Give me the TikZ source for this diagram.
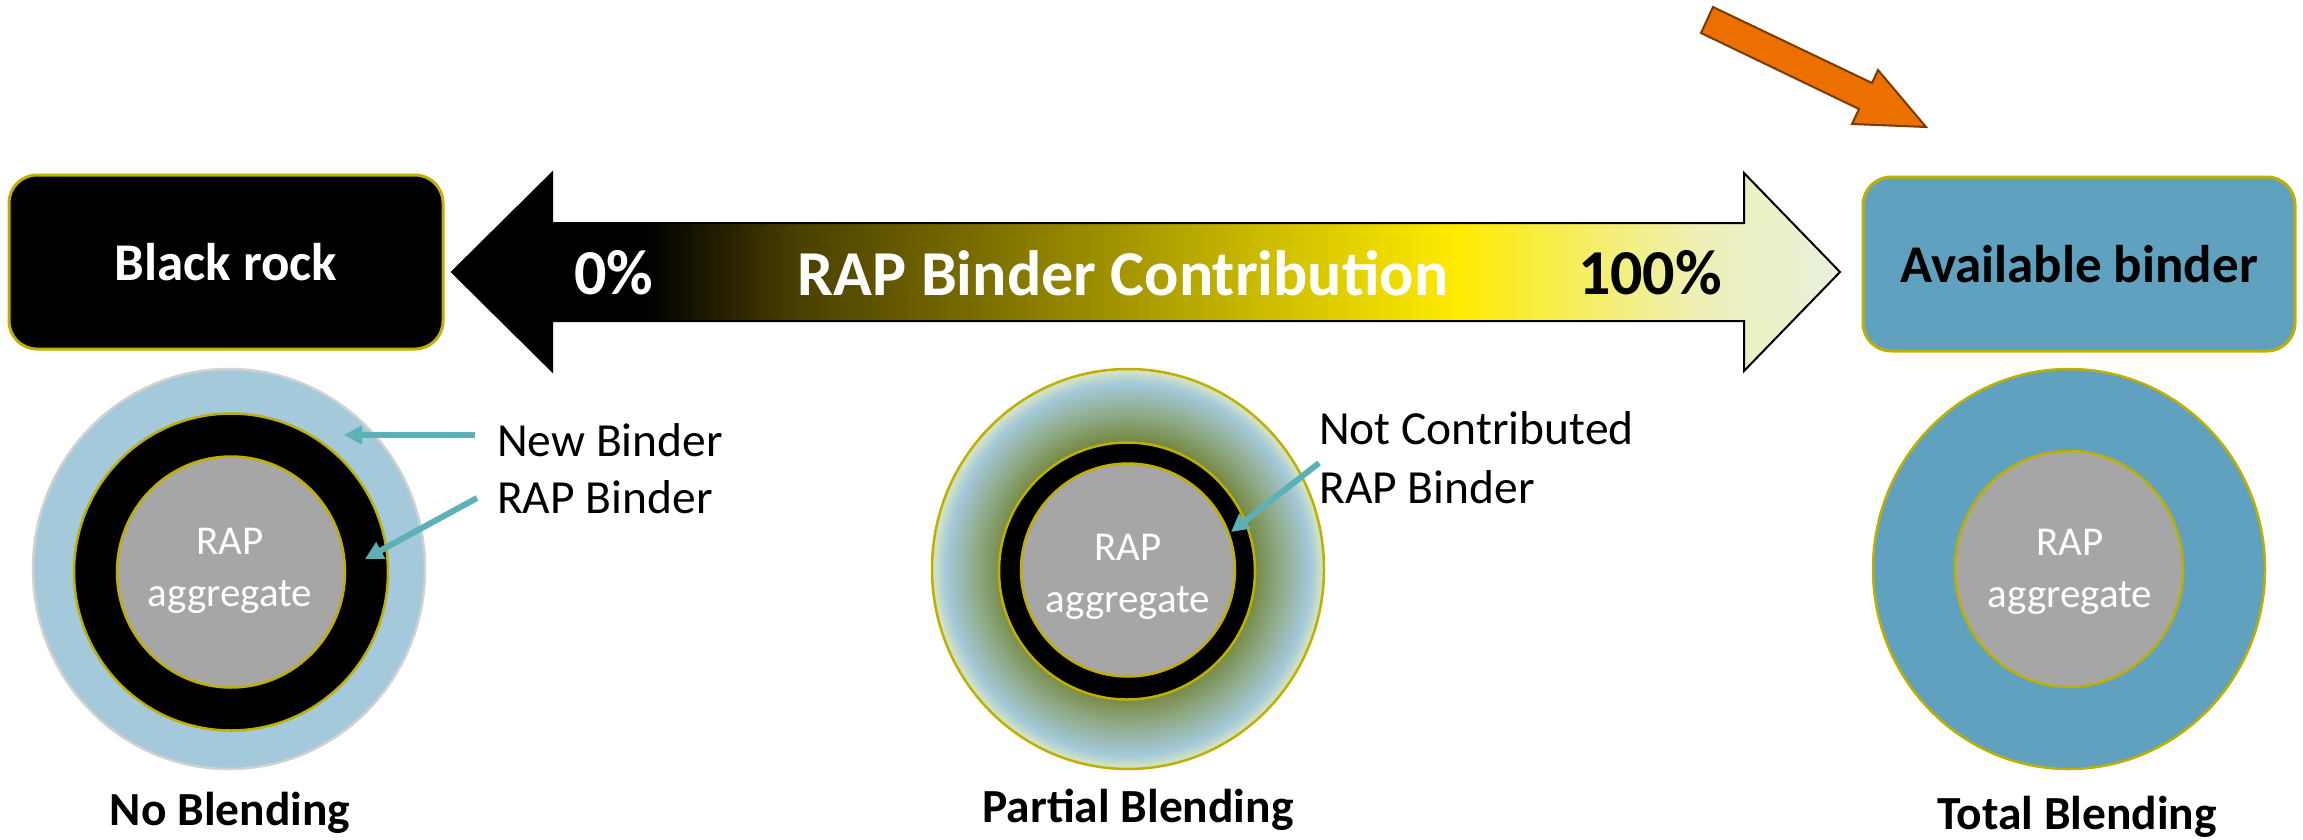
\documentclass[tikz,border=0pt]{standalone}
\usepackage{fontspec}
\setmainfont{Carlito}
\usetikzlibrary{shapes.geometric,arrows.meta}
\definecolor{olivel}{HTML}{BFB000}
\definecolor{boxblue}{HTML}{5FA1BE}
\definecolor{lblue}{HTML}{A4C9DA}
\definecolor{aggray}{HTML}{A6A6A6}
\definecolor{tealc}{HTML}{5DB1B6}
\definecolor{orng}{HTML}{EC7000}
\definecolor{orngd}{HTML}{7A3A00}
\definecolor{ga}{HTML}{4A4000}
\definecolor{gb}{HTML}{807300}
\definecolor{gc}{HTML}{C8B800}
\definecolor{gd}{HTML}{FFEB00}
\definecolor{ge}{HTML}{F3EE70}
\definecolor{gf}{HTML}{EEF0B8}
\definecolor{gg}{HTML}{E8F2DC}
\definecolor{polv}{HTML}{778A45}
\definecolor{pmid}{HTML}{8FAA88}
\definecolor{prim}{HTML}{D2E2C4}
\pgfdeclarehorizontalshading{rapgrad}{100bp}{color(0bp)=(black); color(25bp)=(black); color(32bp)=(black); color(37.5bp)=(ga); color(44.7bp)=(gb); color(53.7bp)=(gc); color(61.2bp)=(gd); color(66.4bp)=(ge); color(70bp)=(gf); color(75bp)=(gg); color(100bp)=(gg)}
\pgfdeclareradialshading{pblend}{\pgfpoint{0bp}{0bp}}{color(0bp)=(polv); color(16.2bp)=(polv); color(19.5bp)=(pmid); color(23.3bp)=(lblue); color(24.7bp)=(prim); color(25bp)=(prim); color(50bp)=(prim)}
\tikzset{
  rbox/.style={rounded corners=28pt, line width=3pt, draw=olivel, minimum width=#1, minimum height=174pt, inner sep=0pt},
  ring/.style={ellipse, inner sep=0pt, line width=2.5pt},
  aggtext/.style={text=white, align=center, font=\fontsize{41}{52}\selectfont},
  lbltext/.style={anchor=west, inner sep=0pt, font=\fontsize{47.5}{57}\selectfont},
  captext/.style={inner sep=0pt, font=\bfseries\fontsize{47.5}{57}\selectfont},
  bigtext/.style={inner sep=0pt, font=\bfseries\fontsize{64}{76}\selectfont},
  tealarrow/.style={draw=tealc, line width=6pt, -{Triangle[length=18pt,width=18pt]}}
}
\begin{document}
\begin{tikzpicture}[x=1pt,y=-1pt]
\useasboundingbox (0,0) rectangle (2303,839);
% boxes
\node[rbox=434pt, fill=black, text=white, font=\bfseries\fontsize{53}{64}\selectfont] (black) at (226,262) {Black rock};
\node[rbox=432pt, fill=boxblue, text=black, font=\bfseries\fontsize{53}{64}\selectfont] (avail) at (2079,264) {Available binder};
% big double arrow
\path[shading=rapgrad, draw=black, line width=2pt]
  (452,272) -- (552,173) -- (552,223) -- (1744,223) -- (1744,173) -- (1840,272)
  -- (1744,371) -- (1744,321) -- (552,321) -- (552,371) -- cycle;
\node[bigtext, text=white] (zero) at (614,273) {0\%};
\node[bigtext, text=white] (title) at (1123,273) {RAP Binder Contribution};
\node[bigtext, text=black] (hundred) at (1650,273) {100\%};
% orange arrow
\draw[fill=orng, draw=orngd, line width=2pt, line join=miter]
  (1713,7) -- (1872,83) -- (1878,70) -- (1926,127) -- (1852,124) -- (1859,109) -- (1701,33) -- cycle;
% circle 1: no blending
\node[ring, fill=lblue, draw=black!18, minimum width=392pt, minimum height=400pt] (o1) at (229,569) {};
\node[ring, fill=black, draw=olivel, minimum width=314pt, minimum height=317pt] (b1) at (231,572) {};
\node[ring, fill=aggray, draw=olivel, minimum width=228pt, minimum height=231pt] (g1) at (231,572) {};
\node[aggtext] (t1) at (230,571) {RAP\\aggregate};
\node[lbltext] (nb) at (497,440) {New Binder};
\node[lbltext] (rb) at (497,497) {RAP Binder};
\coordinate (nbtail) at (475,435);
\coordinate (nbtip) at (344,435);
\coordinate (rbtail) at (477,498);
\coordinate (rbtip) at (365,559);
\draw[tealarrow] (nbtail) -- (nbtip);
\draw[tealarrow] (rbtail) -- (rbtip);
\node[captext] (c1) at (230,813) {No Blending};
% circle 2: partial blending
\node[ring, shading=pblend, draw=olivel, minimum width=392pt, minimum height=400pt] (o2) at (1128,569) {};
\node[ring, fill=black, draw=olivel, minimum width=256pt, minimum height=257pt] (b2) at (1127,571) {};
\node[ring, fill=aggray, draw=olivel, minimum width=214pt, minimum height=213pt] (g2) at (1128,570) {};
\node[aggtext] (t2) at (1128,577) {RAP\\aggregate};
\node[lbltext] (nc) at (1319,428) {Not Contributed};
\node[lbltext] (rb2) at (1319,487) {RAP Binder};
\coordinate (nctail) at (1319,463);
\coordinate (nctip) at (1231,532);
\draw[tealarrow] (nctail) -- (nctip);
\node[captext] (c2) at (1138,810) {Partial Blending};
% circle 3: total blending
\node[ring, fill=boxblue, draw=olivel, minimum width=392pt, minimum height=400pt] (o3) at (2069,569) {};
\node[ring, fill=aggray, draw=olivel, minimum width=228pt, minimum height=236pt] (g3) at (2069,569) {};
\node[aggtext] (t3) at (2070,572) {RAP\\aggregate};
\node[captext] (c3) at (2077,817) {Total Blending};
\end{tikzpicture}
\end{document}
